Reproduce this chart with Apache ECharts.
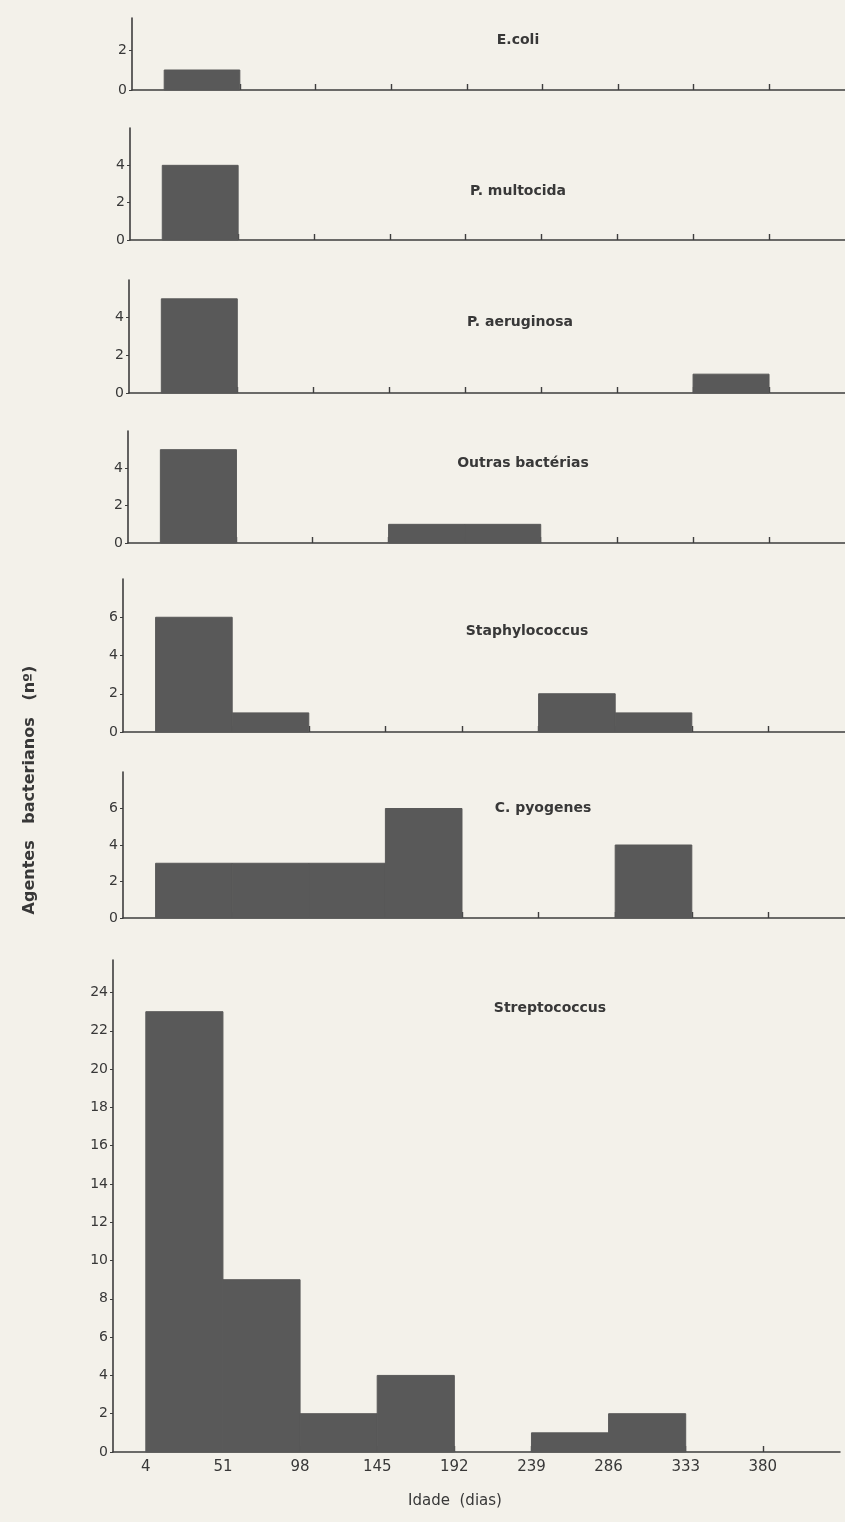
<!DOCTYPE html>
<html>
<head>
<meta charset="utf-8">
<script src="https://cdn.jsdelivr.net/npm/echarts@6/dist/echarts.min.js"></script>
<style>
html,body{margin:0;padding:0;background:#f3f1ea;}
#chart{width:845px;height:1522px;}
</style>
</head>
<body>
<div id="chart"></div>
<script>
// ---- data ----
const binEdges = [4, 51, 98, 145, 192, 239, 286, 333, 380, 427];
const xTickLabels = [4, 51, 98, 145, 192, 239, 286, 333, 380];
const panelNames = ['E.coli', 'P. multocida', 'P. aeruginosa', 'Outras bactérias', 'Staphylococcus', 'C. pyogenes', 'Streptococcus'];
const eColi        = [1, 0, 0, 0, 0, 0, 0, 0, 0];
const pMultocida   = [4, 0, 0, 0, 0, 0, 0, 0, 0];
const pAeruginosa  = [5, 0, 0, 0, 0, 0, 0, 1, 0];
const outras       = [5, 0, 0, 1, 1, 0, 0, 0, 0];
const staphylo     = [6, 1, 0, 0, 0, 2, 1, 0, 0];
const cPyogenes    = [3, 3, 3, 6, 0, 0, 4, 0, 0];
const streptococcus= [23, 9, 2, 4, 0, 1, 2, 0, 0];
const yTicksSmall  = [0, 2];
const yTicks6      = [0, 2, 4];
const yTicks8      = [0, 2, 4, 6];
const yTicksStrep  = [0, 2, 4, 6, 8, 10, 12, 14, 16, 18, 20, 22, 24];
const yMax = [3.6, 6, 6, 6, 8, 8, 25.7];

const seriesData = [eColi, pMultocida, pAeruginosa, outras, staphylo, cPyogenes, streptococcus];
const yTickSets = [yTicksSmall, yTicks6, yTicks6, yTicks6, yTicks8, yTicks8, yTicksStrep];

// ---- layout ----
const panelLeft   = [132, 130, 129, 128, 123, 123, 113];
const panelTop    = [18, 128, 280, 431, 579, 772, 960];
const panelBottom = [90, 240, 393, 543, 732, 918, 1452];
const titlePos    = [[518, 40], [518, 191], [520, 322], [523, 463], [527, 631], [543, 808], [550, 1008]];
const pxPerDay = 1.641;
const xMin = -16, xMax = 427;

const barColor = '#595959';
const axisColor = '#3e3e3e';
const textColor = '#383838';
const font = "'DejaVu Sans', sans-serif";

const grids = [], xAxes = [], yAxes = [], series = [], graphics = [];
for (let i = 0; i < 7; i++) {
  grids.push({
    left: panelLeft[i], top: panelTop[i],
    width: (xMax - xMin) * pxPerDay,
    height: panelBottom[i] - panelTop[i],
    containLabel: false
  });
  const isLast = i === 6;
  xAxes.push({
    type: 'value', gridIndex: i, min: xMin, max: xMax,
    splitLine: { show: false },
    axisLine: { show: true, onZero: false, lineStyle: { color: axisColor, width: 1.6 } },
    axisTick: { show: true, inside: true, length: 6, customValues: binEdges.slice(1, 9), lineStyle: { color: axisColor, width: 1.4 } },
    axisLabel: isLast ? {
      show: true, customValues: xTickLabels, color: textColor, fontFamily: font, fontSize: 15, margin: 8
    } : { show: false }
  });
  yAxes.push({
    type: 'value', gridIndex: i, min: 0, max: yMax[i],
    splitLine: { show: false },
    axisLine: { show: true, onZero: false, lineStyle: { color: axisColor, width: 1.6 } },
    axisTick: { show: true, length: 3, customValues: yTickSets[i], lineStyle: { color: axisColor } },
    axisLabel: { show: true, customValues: yTickSets[i], color: textColor, fontFamily: font, fontSize: 14, margin: 5 }
  });
  const d = [];
  seriesData[i].forEach((v, k) => { if (v > 0) d.push([binEdges[k], binEdges[k + 1], v]); });
  series.push({
    type: 'custom', xAxisIndex: i, yAxisIndex: i, z: 5,
    encode: { x: [0, 1], y: 2 },
    data: d,
    renderItem: function (params, api) {
      const p0 = api.coord([api.value(0), api.value(2)]);
      const p1 = api.coord([api.value(1), 0]);
      return {
        type: 'rect',
        shape: { x: p0[0], y: p0[1], width: p1[0] - p0[0], height: p1[1] - p0[1] },
        style: { fill: barColor, stroke: barColor, lineWidth: 1 }
      };
    }
  });
  graphics.push({
    type: 'text', x: titlePos[i][0], y: titlePos[i][1],
    style: { text: panelNames[i], fill: textColor, font: "600 14px 'DejaVu Sans', sans-serif", textAlign: 'center', textVerticalAlign: 'middle' }
  });
}
graphics.push({
  type: 'text', x: 30, y: 790, rotation: Math.PI / 2,
  style: { text: 'Agentes   bacterianos   (nº)', fill: textColor, font: "600 16px 'DejaVu Sans', sans-serif", textAlign: 'center', textVerticalAlign: 'middle' }
});
graphics.push({
  type: 'text', x: 455, y: 1501,
  style: { text: 'Idade  (dias)', fill: textColor, font: "15px 'DejaVu Sans', sans-serif", textAlign: 'center', textVerticalAlign: 'middle' }
});

const chart = echarts.init(document.getElementById('chart'), null, { renderer: 'canvas' });
chart.setOption({
  backgroundColor: '#f3f1ea',
  animation: false,
  grid: grids, xAxis: xAxes, yAxis: yAxes, series: series,
  graphic: graphics
});
</script>
</body>
</html>
